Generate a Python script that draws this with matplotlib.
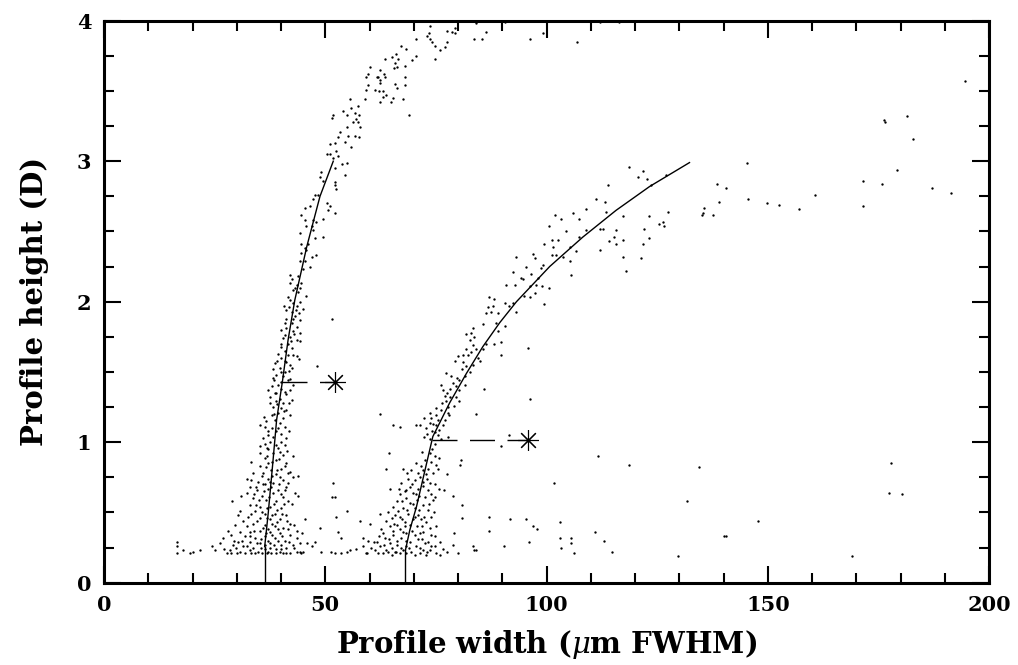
import matplotlib
matplotlib.use("Agg")
import matplotlib.pyplot as plt
from matplotlib.ticker import MultipleLocator

# profile width (um FWHM) vs profile height (D)

# left arc, upper part (above the fitted curve end)
arc_top = [
    (73.6, 3.96), (73.4, 3.91), (72.9, 3.89), (73.7, 3.87), (74.2, 3.85), (74.7, 3.82),
    (77.4, 3.93), (78.7, 3.92), (79.4, 3.95), (79.4, 3.91), (77.4, 3.85), (77.0, 3.81),
    (76.0, 3.79), (74.7, 3.73), (70.6, 3.87), (68.2, 3.80), (67.2, 3.82), (70.4, 3.75),
    (69.6, 3.72), (68.1, 3.68), (66.0, 3.76), (65.0, 3.74), (63.4, 3.73), (66.4, 3.73),
    (65.7, 3.70), (66.2, 3.67), (65.5, 3.66), (62.3, 3.65), (63.2, 3.62), (63.4, 3.60),
    (62.3, 3.58), (62.3, 3.56), (67.9, 3.60), (65.7, 3.55), (67.9, 3.54), (66.1, 3.52),
    (63.1, 3.50), (63.7, 3.47), (63.1, 3.46), (65.2, 3.45), (67.6, 3.44), (62.3, 3.42),
    (64.9, 3.42), (68.9, 3.33),
    (84.0, 3.98), (86.4, 3.92), (83.7, 3.87), (85.4, 3.87), (90.5, 3.99), (96.2, 3.87),
    (99.2, 3.91), (106.9, 3.85), (112.0, 3.99), (116.3, 3.99),
    (60.0, 3.67), (59.3, 3.60), (59.7, 3.62), (61.6, 3.60), (61.9, 3.60), (59.3, 3.51),
    (59.7, 3.54), (61.2, 3.51), (62.2, 3.50), (55.5, 3.44), (58.9, 3.44), (57.4, 3.39),
    (55.9, 3.38), (54.0, 3.36), (51.8, 3.33), (51.6, 3.31), (54.8, 3.33), (56.7, 3.34),
    (57.6, 3.33), (57.0, 3.30), (56.3, 3.28), (57.4, 3.28), (57.8, 3.24), (54.8, 3.24),
    (55.2, 3.18), (53.3, 3.21), (52.9, 3.17), (56.7, 3.18), (57.6, 3.17), (55.9, 3.10),
    (54.4, 3.14), (52.1, 3.13), (51.0, 3.12), (51.0, 3.05), (50.3, 3.05), (52.5, 3.07),
    (52.9, 3.04), (51.8, 3.02), (54.8, 2.99), (53.7, 2.98), (52.1, 2.95), (54.4, 2.90),
]

# left cluster, along the fitted curve, 2.0 < h < 3.0
left_upper = [
    (49.1, 2.92), (48.8, 2.89), (49.5, 2.86), (52.1, 2.85), (52.1, 2.83), (52.5, 2.80),
    (47.6, 2.76), (48.4, 2.76), (47.3, 2.73), (46.5, 2.68), (50.3, 2.70), (51.0, 2.68),
    (50.6, 2.65), (52.1, 2.63), (45.4, 2.67), (44.6, 2.62), (45.4, 2.58), (47.3, 2.58),
    (48.0, 2.57), (49.5, 2.59), (45.7, 2.54), (46.9, 2.54), (44.2, 2.49), (47.3, 2.51),
    (47.6, 2.45), (49.5, 2.46), (46.1, 2.41), (44.6, 2.41), (45.4, 2.38), (44.6, 2.35),
    (45.7, 2.37), (48.0, 2.33), (44.2, 2.29), (45.4, 2.29), (46.9, 2.32), (46.5, 2.25),
    (45.0, 2.23), (43.9, 2.18), (42.0, 2.19), (42.4, 2.16), (43.5, 2.12), (44.6, 2.13),
    (44.2, 2.10), (43.1, 2.10), (42.0, 2.13), (42.7, 2.08), (43.9, 2.07), (45.7, 2.04),
    (41.6, 2.03),
]

# left cluster, 1.0 < h < 2.0
left_mid = [
    (42.0, 2.01), (42.7, 1.99), (44.2, 2.00), (43.5, 1.97), (41.2, 1.94), (42.4, 1.93),
    (44.1, 1.92), (43.1, 1.90), (41.2, 1.88), (44.2, 1.87), (42.4, 1.85), (43.5, 1.82),
    (41.2, 1.81), (40.1, 1.80), (42.7, 1.79), (44.2, 1.78), (42.0, 1.75), (40.5, 1.74),
    (43.5, 1.73), (41.6, 1.70), (44.2, 1.72), (40.1, 1.68), (42.4, 1.67), (40.9, 1.65),
    (39.4, 1.63), (41.6, 1.62), (43.5, 1.61), (40.1, 1.60), (41.2, 1.57), (38.6, 1.56),
    (42.0, 1.55), (39.7, 1.53), (38.2, 1.52), (40.9, 1.50), (42.4, 1.53), (38.9, 1.48),
    (38.2, 1.46), (40.5, 1.47), (41.6, 1.44), (42.7, 1.41), (39.4, 1.41), (37.9, 1.40),
    (40.1, 1.38), (42.0, 1.37), (38.6, 1.35), (41.2, 1.34), (39.7, 1.31), (37.5, 1.32),
    (42.4, 1.30), (38.9, 1.29), (40.5, 1.28), (38.2, 1.25), (40.1, 1.24), (41.2, 1.23),
    (39.4, 1.21), (37.9, 1.19), (42.0, 1.19), (40.5, 1.17), (38.6, 1.16), (36.7, 1.15),
    (39.7, 1.14), (40.9, 1.11), (37.9, 1.10), (38.9, 1.08), (35.2, 1.12), (36.3, 1.11),
    (40.1, 1.06), (37.1, 1.05), (38.2, 1.04), (36.0, 1.03), (41.2, 1.03),
    (37.0, 1.08), (39.3, 1.10), (41.8, 1.08), (36.2, 1.18), (38.4, 1.20), (40.6, 1.22),
    (39.0, 1.27), (41.7, 1.28), (37.4, 1.28), (38.9, 1.35), (40.8, 1.36), (37.0, 1.37),
    (39.9, 1.43), (42.0, 1.45), (38.5, 1.44), (40.0, 1.50), (41.7, 1.51), (39.0, 1.58),
    (40.8, 1.58), (42.6, 1.62), (39.9, 1.70), (42.3, 1.72), (41.0, 1.76), (43.0, 1.77),
    (40.8, 1.85), (42.6, 1.88), (41.9, 1.96), (43.3, 1.94), (44.9, 1.95), (40.6, 1.97),
    (51.6, 1.88), (48.2, 1.54), (44.1, 1.59),
]

# left cluster, h < 1.0
left_low = [
    (35.2, 0.97), (36.3, 0.99), (37.5, 1.00), (40.1, 1.00), (40.9, 0.98), (39.3, 0.96),
    (37.1, 0.95), (35.2, 0.92), (38.2, 0.92), (40.5, 0.91), (36.3, 0.89), (38.9, 0.87),
    (41.2, 0.85), (33.3, 0.86), (37.1, 0.85), (35.2, 0.83), (40.1, 0.81), (37.8, 0.80),
    (42.0, 0.79), (36.0, 0.78), (33.3, 0.73), (38.9, 0.77), (42.7, 0.75), (37.1, 0.74),
    (34.8, 0.72), (40.5, 0.73), (43.9, 0.76), (32.2, 0.74), (38.2, 0.71), (41.6, 0.71),
    (36.3, 0.70), (32.9, 0.68), (34.5, 0.66), (37.1, 0.67), (39.3, 0.66), (41.2, 0.68),
    (43.1, 0.64), (32.2, 0.64), (35.6, 0.62), (38.2, 0.64), (40.5, 0.61), (33.7, 0.60),
    (36.7, 0.59), (38.9, 0.58), (41.6, 0.58), (29.0, 0.58), (32.9, 0.55), (35.2, 0.54),
    (37.5, 0.54), (40.1, 0.53), (30.7, 0.51), (34.1, 0.51), (36.3, 0.49), (38.6, 0.49),
    (41.2, 0.48), (30.3, 0.48), (32.6, 0.47), (35.2, 0.46), (37.5, 0.45), (39.7, 0.45),
    (42.0, 0.42), (31.4, 0.44), (33.7, 0.42), (36.3, 0.41), (38.6, 0.40), (29.6, 0.41),
    (45.4, 0.45), (43.5, 0.37), (40.5, 0.39), (28.1, 0.37), (30.7, 0.36), (32.9, 0.36),
    (35.2, 0.37), (37.5, 0.36), (39.7, 0.35), (42.0, 0.34), (28.8, 0.34), (31.8, 0.33),
    (34.1, 0.32), (36.3, 0.33), (38.6, 0.32), (40.9, 0.30), (43.5, 0.32), (26.9, 0.32),
    (30.3, 0.29), (32.9, 0.29), (35.2, 0.28), (37.5, 0.28), (40.1, 0.27), (42.7, 0.27),
    (29.2, 0.27), (31.4, 0.26), (33.7, 0.25), (36.3, 0.24), (38.9, 0.24), (41.2, 0.25),
    (44.2, 0.22), (28.4, 0.23), (30.7, 0.22), (32.9, 0.23), (34.8, 0.22), (37.1, 0.22),
    (39.7, 0.22), (42.0, 0.21), (28.8, 0.21), (31.8, 0.21), (34.1, 0.21), (37.8, 0.21),
    (40.5, 0.21), (43.5, 0.22), (45.0, 0.22),
    (36.8, 0.96), (38.8, 0.98), (39.8, 0.93), (36.9, 0.90), (39.5, 0.88), (37.9, 0.86),
    (40.8, 0.83), (36.6, 0.82), (39.0, 0.80), (41.5, 0.78), (35.8, 0.76), (38.0, 0.76),
    (39.8, 0.75), (37.5, 0.72), (35.9, 0.70), (39.6, 0.70), (41.0, 0.66), (37.8, 0.68),
    (36.2, 0.65), (34.0, 0.63), (39.9, 0.63), (37.2, 0.61), (35.1, 0.59), (38.3, 0.56),
    (40.7, 0.56), (36.9, 0.53), (34.4, 0.55), (39.1, 0.52), (35.7, 0.50), (37.9, 0.48),
    (40.2, 0.49), (33.1, 0.49), (36.8, 0.46), (39.0, 0.43), (34.6, 0.44), (38.0, 0.42),
    (41.3, 0.44), (35.9, 0.39), (32.3, 0.40), (37.0, 0.38), (39.2, 0.38), (41.6, 0.38),
    (34.0, 0.37), (36.6, 0.35), (33.0, 0.33), (38.0, 0.34), (40.3, 0.33), (35.5, 0.31),
    (37.1, 0.30), (39.2, 0.30), (41.8, 0.29), (31.2, 0.30), (34.6, 0.28), (36.4, 0.27),
    (38.3, 0.27), (29.8, 0.25), (32.4, 0.26), (35.4, 0.25), (37.6, 0.25), (40.0, 0.24),
    (43.0, 0.25), (30.0, 0.21), (33.2, 0.21), (35.6, 0.21), (36.8, 0.21), (38.9, 0.21),
    (41.2, 0.21), (44.4, 0.21), (27.2, 0.24), (29.4, 0.30), (44.3, 0.28), (44.8, 0.35),
    (43.0, 0.41), (42.5, 0.56), (43.8, 0.62), (33.7, 0.78), (34.3, 0.68), (31.0, 0.62),
    (42.6, 0.90), (41.3, 0.94),
    (16.4, 0.29), (16.4, 0.26), (16.4, 0.21), (17.9, 0.23), (19.4, 0.21), (20.2, 0.22),
    (21.7, 0.23), (24.3, 0.26), (25.1, 0.23), (26.2, 0.28), (27.7, 0.21),
    (45.8, 0.28), (46.9, 0.26), (47.6, 0.29), (49.1, 0.22), (51.4, 0.22), (52.1, 0.21),
    (53.6, 0.21), (54.8, 0.22), (55.5, 0.23), (57.0, 0.24), (58.5, 0.26), (59.3, 0.21),
    (59.7, 0.30), (58.5, 0.32), (57.8, 0.44), (52.5, 0.47), (52.9, 0.36), (53.6, 0.32),
    (48.8, 0.39), (54.8, 0.51), (51.8, 0.71), (51.6, 0.61), (52.1, 0.61),
]

# right cluster, h < 1.0
right_low = [
    (64.4, 0.92), (63.7, 0.81), (64.6, 0.67), (60.0, 0.42), (62.3, 0.49), (80.7, 0.87),
    (80.5, 0.84), (77.6, 0.77), (76.8, 0.66), (78.9, 0.62), (81.0, 0.55), (81.0, 0.46),
    (79.1, 0.35), (78.9, 0.27), (80.0, 0.21), (83.4, 0.26), (84.1, 0.23), (83.6, 0.23),
    (87.1, 0.47), (87.1, 0.37), (91.8, 0.45), (95.4, 0.45), (96.9, 0.40), (97.9, 0.38),
    (90.3, 0.26), (96.0, 0.29),
    (73.6, 0.92), (74.7, 0.90), (75.8, 0.89), (72.5, 0.87), (73.9, 0.86), (75.1, 0.84),
    (70.6, 0.85), (71.7, 0.83), (73.2, 0.81), (69.4, 0.80), (67.6, 0.81), (70.9, 0.78),
    (72.8, 0.77), (74.3, 0.78), (68.7, 0.74), (70.2, 0.73), (72.1, 0.72), (73.6, 0.71),
    (74.7, 0.70), (67.2, 0.71), (69.1, 0.68), (70.9, 0.67), (73.2, 0.66), (67.9, 0.65),
    (69.8, 0.64), (73.9, 0.63), (72.5, 0.61), (66.9, 0.63), (68.3, 0.60), (70.7, 0.59),
    (69.1, 0.57), (66.1, 0.58), (72.1, 0.55), (74.3, 0.59), (70.2, 0.53), (67.6, 0.53),
    (65.3, 0.54), (73.2, 0.52), (68.7, 0.49), (70.9, 0.48), (66.9, 0.47), (65.0, 0.46),
    (69.8, 0.45), (67.9, 0.43), (72.8, 0.43), (66.1, 0.41), (69.1, 0.41), (70.7, 0.40),
    (75.1, 0.40), (64.6, 0.40), (66.9, 0.38), (72.1, 0.36), (68.3, 0.35), (70.2, 0.34),
    (65.3, 0.34), (73.9, 0.34), (63.4, 0.32), (67.2, 0.32), (70.9, 0.31), (69.1, 0.29),
    (73.2, 0.29), (64.6, 0.28), (66.1, 0.27), (68.3, 0.26), (70.6, 0.26), (74.7, 0.26),
    (62.3, 0.26), (63.8, 0.23), (65.7, 0.22), (67.6, 0.23), (69.4, 0.22), (72.1, 0.23),
    (73.6, 0.23), (61.2, 0.23), (63.1, 0.21), (65.0, 0.20), (66.9, 0.21), (70.2, 0.20),
    (72.8, 0.20), (75.1, 0.21), (60.4, 0.25), (61.6, 0.29), (63.1, 0.35), (71.7, 0.45),
    (70.6, 0.63), (65.7, 0.48), (73.9, 0.47), (72.5, 0.28),
    (71.8, 0.93), (74.0, 0.95), (72.0, 0.80), (75.5, 0.81), (68.4, 0.78), (71.4, 0.75),
    (73.0, 0.74), (69.5, 0.70), (72.0, 0.69), (75.6, 0.67), (66.6, 0.67), (68.2, 0.66),
    (71.2, 0.62), (74.8, 0.61), (67.4, 0.58), (69.9, 0.56), (73.5, 0.56), (71.2, 0.52),
    (66.4, 0.51), (68.5, 0.52), (74.6, 0.50), (64.1, 0.50), (67.3, 0.45), (70.2, 0.47),
    (72.3, 0.47), (63.7, 0.44), (65.6, 0.42), (68.0, 0.40), (71.9, 0.40), (73.6, 0.39),
    (62.6, 0.38), (65.3, 0.37), (67.6, 0.36), (69.6, 0.37), (71.3, 0.35), (74.9, 0.33),
    (62.2, 0.33), (64.3, 0.31), (66.2, 0.30), (68.2, 0.30), (71.9, 0.31), (75.9, 0.29),
    (61.0, 0.29), (63.2, 0.27), (65.0, 0.25), (67.0, 0.25), (69.0, 0.25), (71.5, 0.25),
    (73.8, 0.26), (76.5, 0.24), (59.5, 0.21), (62.0, 0.21), (64.2, 0.22), (66.0, 0.22),
    (68.3, 0.21), (71.3, 0.21), (73.0, 0.22), (76.0, 0.20), (77.5, 0.22),
]

# right cluster, along the second fitted curve, h > 1.0
right_arc = [
    (118.7, 2.96), (121.8, 2.93), (120.6, 2.89), (122.7, 2.87), (123.5, 2.83), (127.0, 2.90),
    (113.8, 2.83), (111.2, 2.73), (113.1, 2.71), (108.8, 2.66), (113.4, 2.64), (105.9, 2.63),
    (107.4, 2.59), (103.3, 2.59), (101.8, 2.62), (100.5, 2.54), (117.2, 2.61), (123.2, 2.61),
    (127.4, 2.64), (126.2, 2.57), (125.5, 2.55), (126.6, 2.54), (122.1, 2.52), (115.7, 2.51),
    (112.1, 2.52), (112.7, 2.52), (108.9, 2.51), (107.4, 2.46), (104.3, 2.50), (102.5, 2.44),
    (101.2, 2.44), (101.4, 2.39), (99.4, 2.41), (105.2, 2.39), (106.7, 2.36), (103.7, 2.32),
    (102.2, 2.33), (101.3, 2.33), (114.2, 2.43), (115.3, 2.46), (117.2, 2.44), (123.2, 2.45),
    (121.8, 2.41), (112.1, 2.37), (115.7, 2.41), (121.4, 2.31), (117.2, 2.32), (118.0, 2.22),
    (105.3, 2.29), (105.6, 2.19), (96.9, 2.34), (97.3, 2.31), (93.0, 2.32), (99.2, 2.26),
    (98.8, 2.24), (95.4, 2.25), (96.5, 2.20), (98.0, 2.17), (92.4, 2.21), (94.3, 2.17),
    (94.7, 2.16), (92.8, 2.12), (96.2, 2.11), (97.6, 2.12), (99.0, 2.11), (100.5, 2.10),
    (90.9, 2.12), (97.3, 2.06), (96.2, 2.03), (95.0, 2.04), (99.5, 1.98), (88.2, 2.02),
    (87.1, 2.03), (86.7, 1.96), (87.9, 1.97), (90.5, 1.99), (92.4, 1.99), (91.5, 1.97),
    (93.2, 1.93), (89.0, 1.92), (87.5, 1.93), (86.4, 1.92), (88.6, 1.85), (90.5, 1.83),
    (85.6, 1.84), (89.0, 1.79), (83.4, 1.81), (83.0, 1.78), (81.9, 1.77), (83.7, 1.75),
    (82.6, 1.73), (83.4, 1.69), (84.1, 1.66), (86.4, 1.70), (88.2, 1.70), (89.8, 1.71),
    (85.6, 1.66), (81.9, 1.66), (82.2, 1.62), (81.1, 1.57), (84.5, 1.60), (84.9, 1.58),
    (89.8, 1.62), (80.0, 1.61), (79.2, 1.58), (81.9, 1.54), (82.6, 1.50), (81.5, 1.47),
    (80.3, 1.44), (77.3, 1.49), (78.5, 1.47), (76.2, 1.41), (76.6, 1.37), (78.1, 1.38),
    (78.9, 1.42), (79.6, 1.40), (80.3, 1.37), (81.5, 1.41), (77.0, 1.33), (78.1, 1.32),
    (79.6, 1.32), (80.3, 1.29), (77.3, 1.29), (77.7, 1.25), (75.1, 1.24), (76.2, 1.23),
    (77.7, 1.21), (73.6, 1.21), (72.4, 1.17), (73.9, 1.17), (75.5, 1.16), (77.0, 1.16),
    (73.6, 1.14), (75.1, 1.12), (72.8, 1.10), (74.0, 1.08), (74.7, 1.07), (75.8, 1.09),
    (72.4, 1.04), (73.6, 1.02), (74.7, 0.99), (76.2, 1.02), (77.7, 1.04), (71.3, 1.12),
    (70.6, 1.12), (65.3, 1.12), (66.9, 1.11), (62.3, 1.20), (85.8, 1.38), (84.1, 1.20),
    (95.9, 1.67), (96.2, 1.31), (91.6, 1.05), (89.8, 0.97),
    (73.0, 1.06), (75.4, 1.05), (74.4, 1.13), (76.6, 1.12), (75.0, 1.19), (78.0, 1.19),
    (76.3, 1.28), (79.0, 1.26), (77.5, 1.35), (79.8, 1.46), (80.8, 1.52), (83.4, 1.55),
    (81.1, 1.62), (83.0, 1.64),
]

# sparse points at large widths
far_right = [
    (135.1, 2.62), (135.3, 2.63), (135.6, 2.67), (137.7, 2.62), (138.5, 2.84), (139.0, 2.71),
    (140.6, 2.81), (145.3, 2.99), (145.5, 2.73), (149.8, 2.70), (152.5, 2.69), (157.1, 2.66),
    (160.6, 2.76), (171.5, 2.86), (171.6, 2.68), (175.9, 2.84), (176.2, 3.29), (176.5, 3.28),
    (181.4, 3.32), (179.3, 2.94), (182.9, 3.16), (187.1, 2.81), (191.3, 2.77), (194.6, 3.57),
    (177.8, 0.85), (177.3, 0.64), (180.4, 0.63), (134.5, 0.82), (147.8, 0.44), (140.2, 0.33),
    (140.6, 0.33), (169.1, 0.19), (129.6, 0.19), (131.8, 0.58), (118.6, 0.84), (113.0, 0.30),
    (114.7, 0.22), (101.6, 0.71), (111.6, 0.90), (103.1, 0.43), (103.0, 0.32), (103.3, 0.25),
    (105.6, 0.32), (105.6, 0.28), (106.2, 0.21), (111.0, 0.36),
]

# fitted curves
fit1_w = [36.3, 37.1, 38.2, 39.0, 40.3, 41.6, 43.1, 45.8, 48.8, 51.8]
fit1_h = [0.256, 0.494, 0.874, 1.159, 1.43, 1.73, 2.01, 2.39, 2.75, 3.0]
fit2_w = [68.1, 69.1, 70.6, 74.3, 78.1, 81.9, 85.6, 89.4, 93.2, 100.7, 108.2, 115.7, 123.3, 132.3]
fit2_h = [0.23, 0.375, 0.54, 1.04, 1.28, 1.49, 1.68, 1.85, 2.0, 2.25, 2.46, 2.65, 2.82, 2.99]

# offset markers and where their dashed leaders start
star_w = [52.3, 95.7]
star_h = [1.43, 1.016]
lead_w = [40.3, 74.0]

plt.rcParams['lines.scale_dashes'] = False
plt.rcParams['mathtext.fontset'] = 'dejavuserif'

fig = plt.figure(figsize=(10.18, 6.65), dpi=100)
ax = fig.add_axes([0.1022, 0.1238, 0.8694, 0.8451])

pts = arc_top + left_upper + left_mid + left_low + right_low + right_arc + far_right
pw = [p[0] for p in pts]
ph = [p[1] for p in pts]
ax.plot(pw, ph, linestyle='none', marker='o', markersize=1.7, color='black',
        markeredgewidth=0)

ax.plot(fit1_w, fit1_h, color='black', lw=1.0)
ax.plot(fit2_w, fit2_h, color='black', lw=1.0)
ax.plot([fit1_w[0], fit1_w[0]], [0, fit1_h[0]], color='black', lw=1.0)
ax.plot([fit2_w[0], fit2_w[0]], [0, fit2_h[0]], color='black', lw=1.0)

for w0, w1, h in zip(lead_w, star_w, star_h):
    ax.plot([w0, w1], [h, h], color='black', lw=1.0, dashes=(18, 9))
ax.plot(star_w, star_h, linestyle='none', marker=(8, 2, 0), markersize=15,
        color='black', markeredgewidth=0.8)

ax.set_xlim(0, 200)
ax.set_ylim(0, 4)
ax.xaxis.set_major_locator(MultipleLocator(50))
ax.xaxis.set_minor_locator(MultipleLocator(10))
ax.yaxis.set_major_locator(MultipleLocator(1))
ax.yaxis.set_minor_locator(MultipleLocator(0.25))
ax.tick_params(which='both', direction='in', top=True, right=True, width=1.5)
ax.tick_params(which='major', length=12, labelsize=15, pad=9)
ax.tick_params(which='minor', length=7)
for s in ax.spines.values():
    s.set_linewidth(2.2)
for lab in ax.get_xticklabels() + ax.get_yticklabels():
    lab.set_family('DejaVu Serif')
    lab.set_fontweight('bold')

ax.set_xlabel(r'Profile width ($\mu$m FWHM)', family='DejaVu Serif', fontweight='bold',
              fontsize=21, labelpad=9)
ax.set_ylabel('Profile height (D)', family='DejaVu Serif', fontweight='bold',
              fontsize=21, labelpad=20)

fig.savefig('out.png', dpi=100)
